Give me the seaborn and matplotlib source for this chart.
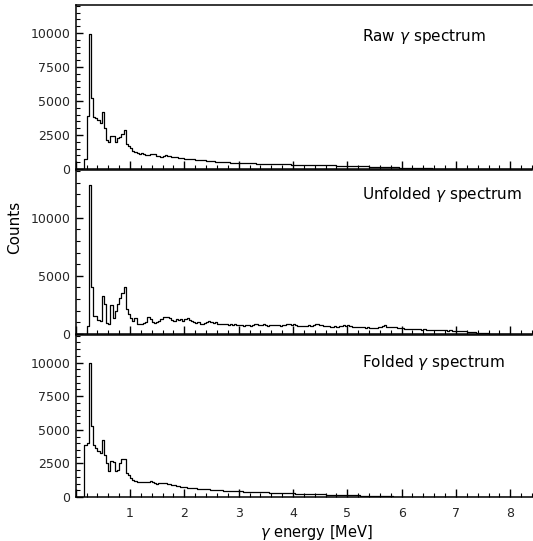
import numpy as np
import pandas as pd
import matplotlib
matplotlib.use("Agg")
import matplotlib.pyplot as plt
from matplotlib.ticker import MultipleLocator, FixedLocator
import seaborn as sns

sns.set_theme(style="white")
plt.rcParams['font.family'] = ['DejaVu Sans']
plt.rcParams['mathtext.fontset'] = 'dejavusans'

# ---- data (bin width 0.04 MeV, bins start at 0) ----
bin_width = 0.04
raw_counts = [
    0, 0, 0, 0, 700, 3900, 9950, 5250, 3850, 3750,
    3600, 3400, 4200, 3000, 2150, 1950, 2450, 2450, 1950, 2250,
    2350, 2600, 2850, 1850, 1700, 1550, 1350, 1250, 1150, 1120,
    1150, 1080, 1050, 1020, 1080, 1130, 1080, 980, 920, 900,
    950, 1000, 990, 940, 900, 880, 850, 840, 810, 790,
    770, 760, 740, 720, 700, 690, 680, 660, 650, 630,
    610, 600, 580, 560, 550, 530, 520, 510, 500, 490,
    480, 470, 460, 455, 450, 445, 440, 430, 425, 420,
    415, 410, 405, 400, 395, 390, 385, 380, 375, 370,
    365, 362, 358, 352, 348, 343, 340, 336, 332, 328,
    325, 322, 318, 315, 312, 310, 306, 303, 300, 297,
    294, 290, 286, 282, 278, 274, 270, 266, 262, 258,
    254, 250, 245, 240, 235, 228, 220, 216, 212, 208,
    204, 200, 195, 190, 185, 180, 175, 170, 164, 158,
    152, 147, 142, 137, 132, 127, 122, 117, 112, 107,
    102, 97, 92, 87, 82, 77, 73, 68, 63, 58,
    53, 48, 43, 38, 34, 30, 26, 22, 18, 14,
    10, 8, 6, 4, 2, 0, 0, 0, 0, 0,
    0, 0, 0, 0, 0, 0, 0, 0, 0, 0,
    0, 0, 0, 0, 0, 0, 0, 0, 0, 0,
]
unfolded_counts = [
    0, 0, 0, 0, 0, 700, 12800, 4000, 1550, 1550,
    1200, 1150, 3300, 2550, 950, 830, 2500, 1400, 2000, 2600,
    3100, 3500, 4000, 2150, 1700, 1400, 1150, 1350, 850, 880,
    850, 950, 1050, 1450, 1300, 1000, 950, 1050, 1100, 1300,
    1450, 1500, 1450, 1400, 1200, 1150, 1250, 1200, 1300, 1150,
    1250, 1350, 1200, 1100, 1000, 950, 1050, 900, 880, 950,
    1050, 1080, 1000, 950, 1000, 900, 850, 880, 820, 850,
    800, 830, 780, 830, 780, 740, 760, 700, 760, 740,
    720, 800, 880, 850, 800, 760, 820, 780, 700, 760,
    800, 740, 780, 760, 720, 800, 760, 820, 880, 800,
    850, 760, 720, 680, 720, 660, 700, 760, 720, 800,
    900, 820, 760, 800, 720, 680, 700, 640, 620, 660,
    600, 650, 720, 760, 700, 740, 680, 620, 600, 560,
    580, 620, 560, 520, 560, 500, 540, 480, 500, 560,
    620, 700, 740, 640, 600, 640, 600, 560, 520, 480,
    500, 470, 450, 430, 460, 440, 420, 430, 400, 380,
    400, 380, 360, 380, 360, 370, 340, 360, 330, 350,
    340, 300, 320, 280, 300, 280, 250, 260, 230, 220,
    200, 180, 160, 150, 120, 100, 80, 70, 60, 50,
    40, 30, 20, 10, 0, 0, 0, 0, 0, 0,
]
folded_counts = [
    0, 0, 0, 0, 3900, 4050, 10000, 5300, 3850, 3650,
    3450, 3250, 4250, 3100, 2500, 1950, 2650, 2600, 1900, 2000,
    2500, 2800, 2850, 1750, 1600, 1400, 1300, 1200, 1150, 1100,
    1100, 1080, 1100, 1150, 1200, 1150, 1050, 1000, 1020, 1050,
    1060, 1050, 1000, 950, 900, 860, 820, 790, 760, 740,
    720, 705, 690, 675, 660, 645, 630, 615, 600, 585,
    570, 560, 550, 540, 525, 510, 500, 490, 480, 470,
    460, 450, 440, 432, 425, 418, 410, 404, 398, 392,
    388, 382, 376, 370, 364, 358, 352, 346, 340, 334,
    328, 324, 320, 316, 312, 318, 300, 292, 284, 276,
    268, 260, 252, 245, 238, 232, 226, 220, 214, 208,
    202, 198, 194, 190, 186, 182, 178, 174, 170, 166,
    162, 158, 154, 150, 146, 142, 138, 134, 128, 122,
    116, 110, 104, 98, 92, 86, 80, 75, 70, 65,
    60, 55, 50, 46, 42, 38, 34, 30, 27, 24,
    21, 18, 15, 12, 10, 8, 6, 4, 2, 0,
    0, 0, 0, 0, 0, 0, 0, 0, 0, 0,
    0, 0, 0, 0, 0, 0, 0, 0, 0, 0,
    0, 0, 0, 0, 0, 0, 0, 0, 0, 0,
    0, 0, 0, 0, 0, 0, 0, 0, 0, 0,
]
panel_titles = [r"Raw $\gamma$ spectrum", r"Unfolded $\gamma$ spectrum", r"Folded $\gamma$ spectrum"]
x_ticks = [0, 1, 2, 3, 4, 5, 6, 7, 8]
x_ticklabels = ["", "1", "2", "3", "4", "5", "6", "7", "8"]
y_ticks_a = [0, 2500, 5000, 7500, 10000]
y_ticks_b = [0, 5000, 10000]

n_bins = len(raw_counts)
edges = (np.arange(n_bins + 1) * bin_width).tolist()
centers = [(edges[k] + edges[k + 1]) / 2 for k in range(n_bins)]

W, H = 533, 541
fig = plt.figure(figsize=(W / 100, H / 100), dpi=100)
left = 75.7 / W
right = 532.0 / W
panel_px = [(5, 169), (170, 334), (335, 497)]
ylims = [12060, 14100, 12050]
series = [raw_counts, unfolded_counts, folded_counts]
yt = [y_ticks_a, y_ticks_b, y_ticks_a]
ymin_step = [500, 1000, 500]

axes = []
for i in range(3):
    t, b = panel_px[i]
    ax = fig.add_axes([left, 1 - b / H, right - left, (b - t) / H])
    axes.append(ax)
    df = pd.DataFrame({"energy": centers, "counts": series[i]})
    sns.histplot(data=df, x="energy", weights="counts", bins=edges, element="step",
                 fill=False, color="black", linewidth=0.9, ax=ax)
    ax.set_xlim(0, 8.4)
    ax.set_ylim(0, ylims[i])
    ax.set_xlabel("")
    ax.set_ylabel("")
    ax.set_facecolor("white")
    for s in ["left", "bottom", "top"]:
        ax.spines[s].set_visible(True)
        ax.spines[s].set_color("black")
        ax.spines[s].set_linewidth(1.1)
    ax.spines["right"].set_visible(False)
    ax.xaxis.set_major_locator(FixedLocator(x_ticks))
    ax.xaxis.set_minor_locator(MultipleLocator(0.2))
    ax.yaxis.set_major_locator(FixedLocator(yt[i]))
    ax.yaxis.set_minor_locator(MultipleLocator(ymin_step[i]))
    ax.tick_params(axis="both", which="both", direction="in", color="black",
                   bottom=True, left=True, top=False, right=False)
    ax.tick_params(axis="x", which="major", length=6, width=1.0, pad=7, labelsize=9)
    ax.tick_params(axis="x", which="minor", length=3, width=0.8)
    ax.tick_params(axis="y", which="major", length=5, width=1.0, pad=4, labelsize=9)
    ax.tick_params(axis="y", which="minor", length=3, width=0.8)
    ax.set_yticklabels([str(v) for v in yt[i]])
    if i < 2:
        ax.set_xticklabels([])
    else:
        ax.set_xticklabels(x_ticklabels)

title_y = [36, 195, 362]
for i in range(3):
    fig.text(361.7 / W, 1 - title_y[i] / H, panel_titles[i], ha="left", va="center",
             fontsize=11, color="black")

fig.text(15 / W, 1 - 227 / H, "Counts", rotation=90, ha="center", va="center",
         fontsize=11, color="black")
fig.text(317 / W, 1 - 532 / H, r"$\gamma$ energy [MeV]", ha="center", va="center",
         fontsize=10.5, color="black")

fig.savefig("out.png", dpi=100)
